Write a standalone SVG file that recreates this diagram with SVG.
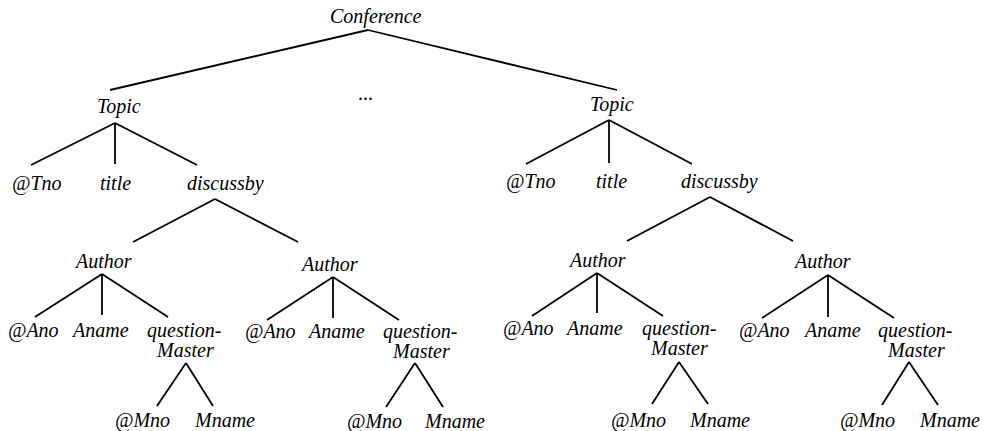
<svg xmlns="http://www.w3.org/2000/svg" width="985" height="431" viewBox="0 0 985 431">
  <style>
    .edge { stroke: #000; stroke-width: 1.8; fill: none; }
  </style>
  <rect width="985" height="431" fill="#fff"/>

  <!-- connectors -->
  <g id="edges" class="edge">
    <!-- root -->
    <line x1="368" y1="30" x2="110" y2="90"/>
    <line x1="368" y1="30" x2="617" y2="90"/>
    <!-- left Topic -->
    <line x1="115" y1="123" x2="31" y2="165"/>
    <line x1="115" y1="123" x2="115" y2="164"/>
    <line x1="115" y1="123" x2="197" y2="165"/>
    <line x1="215" y1="199" x2="133" y2="242"/>
    <line x1="215" y1="199" x2="298" y2="242"/>
    <!-- left Topic / Author 1 -->
    <line x1="102" y1="274" x2="35" y2="317"/>
    <line x1="102" y1="274" x2="102" y2="315"/>
    <line x1="102" y1="274" x2="168" y2="317"/>
    <line x1="186" y1="363" x2="157" y2="406"/>
    <line x1="186" y1="363" x2="213" y2="406"/>
    <!-- left Topic / Author 2 -->
    <line x1="333" y1="277" x2="267" y2="320"/>
    <line x1="333" y1="277" x2="333" y2="318"/>
    <line x1="333" y1="277" x2="399" y2="320"/>
    <line x1="415" y1="363" x2="386" y2="407"/>
    <line x1="415" y1="363" x2="443" y2="407"/>
    <!-- right Topic -->
    <line x1="609" y1="120" x2="526" y2="164"/>
    <line x1="609" y1="120" x2="609" y2="163"/>
    <line x1="609" y1="120" x2="692" y2="164"/>
    <line x1="710" y1="197" x2="627" y2="241"/>
    <line x1="710" y1="197" x2="793" y2="241"/>
    <!-- right Topic / Author 1 -->
    <line x1="597" y1="273" x2="532" y2="316"/>
    <line x1="597" y1="273" x2="597" y2="313"/>
    <line x1="597" y1="273" x2="663" y2="316"/>
    <line x1="679" y1="362" x2="652" y2="404"/>
    <line x1="679" y1="362" x2="708" y2="404"/>
    <!-- right Topic / Author 2 -->
    <line x1="828" y1="275" x2="762" y2="318"/>
    <line x1="828" y1="275" x2="828" y2="317"/>
    <line x1="828" y1="275" x2="894" y2="318"/>
    <line x1="909" y1="362" x2="882" y2="405"/>
    <line x1="909" y1="362" x2="938" y2="405"/>
  </g>

  <!-- nodes: all labels share one serif italic face -->
  <g id="nodes" font-family="Liberation Serif, Times New Roman, serif" font-style="italic" font-size="20" fill="#000">
    <g id="conference"><text x="330" y="23">Conference</text></g>
    <g id="ellipsis"><text x="358" y="100" font-style="normal">...</text></g>

    <g id="topic-1"><text x="97" y="113">Topic</text></g>
    <g id="tno-1"><text x="12" y="190">@Tno</text></g>
    <g id="title-1"><text x="100" y="190">title</text></g>
    <g id="discussby-1"><text x="187" y="190">discussby</text></g>

    <g id="author-1a"><text x="76" y="268">Author</text></g>
    <g id="ano-1a"><text x="8" y="337">@Ano</text></g>
    <g id="aname-1a"><text x="73" y="337">Aname</text></g>
    <g id="qm-1a"><text x="147" y="337">question-</text><text x="157" y="357">Master</text></g>
    <g id="mno-1a"><text x="115" y="427">@Mno</text></g>
    <g id="mname-1a"><text x="195" y="427">Mname</text></g>

    <g id="author-1b"><text x="302" y="271">Author</text></g>
    <g id="ano-1b"><text x="245" y="338">@Ano</text></g>
    <g id="aname-1b"><text x="309" y="338">Aname</text></g>
    <g id="qm-1b"><text x="383" y="338">question-</text><text x="393" y="358">Master</text></g>
    <g id="mno-1b"><text x="347" y="428">@Mno</text></g>
    <g id="mname-1b"><text x="425" y="428">Mname</text></g>

    <g id="topic-2"><text x="590" y="111">Topic</text></g>
    <g id="tno-2"><text x="506" y="188">@Tno</text></g>
    <g id="title-2"><text x="596" y="188">title</text></g>
    <g id="discussby-2"><text x="681" y="188">discussby</text></g>

    <g id="author-2a"><text x="570" y="267">Author</text></g>
    <g id="ano-2a"><text x="503" y="335">@Ano</text></g>
    <g id="aname-2a"><text x="567" y="335">Aname</text></g>
    <g id="qm-2a"><text x="642" y="335">question-</text><text x="651" y="355">Master</text></g>
    <g id="mno-2a"><text x="611" y="427">@Mno</text></g>
    <g id="mname-2a"><text x="690" y="427">Mname</text></g>

    <g id="author-2b"><text x="795" y="268">Author</text></g>
    <g id="ano-2b"><text x="739" y="337">@Ano</text></g>
    <g id="aname-2b"><text x="805" y="337">Aname</text></g>
    <g id="qm-2b"><text x="878" y="337">question-</text><text x="888" y="357">Master</text></g>
    <g id="mno-2b"><text x="840" y="427">@Mno</text></g>
    <g id="mname-2b"><text x="920" y="427">Mname</text></g>
  </g>
</svg>
